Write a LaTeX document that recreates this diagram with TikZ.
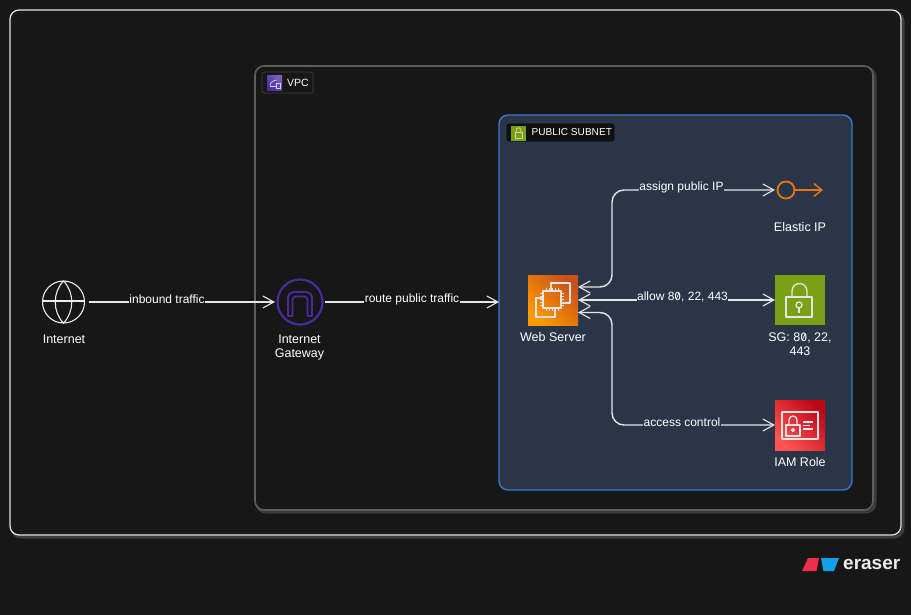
\documentclass[tikz,border=0pt]{standalone}
\usepackage{fontspec}
\setmainfont{Liberation Sans}
\newfontfamily\zfont[RawFeature=+zero]{Fira Sans}
\usetikzlibrary{arrows.meta,calc}
\definecolor{bgc}{HTML}{171717}
\definecolor{subn}{HTML}{2A3648}
\definecolor{edgec}{HTML}{E6E6E6}
\definecolor{shad}{HTML}{3C3C3C}
\definecolor{vpcl}{HTML}{5E5E5E}
\definecolor{blueb}{HTML}{3A77D0}
\definecolor{purp}{HTML}{4A2A9C}
\definecolor{orng}{HTML}{E8760C}
\definecolor{grn}{HTML}{7AA116}
\definecolor{awsorA}{HTML}{C8511B}
\definecolor{awsorB}{HTML}{FF9900}
\definecolor{awsrdA}{HTML}{BD0816}
\definecolor{awsrdB}{HTML}{FF5252}
\definecolor{brandr}{HTML}{EE2F4C}
\definecolor{brandb}{HTML}{12A0EA}
\newcommand{\zz}{{\zfont 0}}
\tikzset{
  txt/.style={text=white,font=\fontsize{12.5}{14}\selectfont,align=center,inner sep=0pt},
  lab/.style={txt,font=\fontsize{12}{14}\selectfont,fill=#1,inner xsep=0.6pt,inner ysep=2pt},
  icon/.style={minimum size=50pt,inner sep=0pt,outer sep=0pt},
  ink/.style={draw=white!90!black,line width=1.35pt,line join=round},
  pin/.style={draw=white!90!black,line width=.9pt},
  flow/.style={draw=edgec,line width=1.4pt,-{Straight Barb[length=11pt,width=12pt,line width=1.1pt]}},
  flowb/.style={draw=edgec,line width=1.4pt,{Straight Barb[length=11pt,width=12pt,line width=1.1pt]}-{Straight Barb[length=11pt,width=12pt,line width=1.1pt]},rounded corners=12pt},
  tag/.style={rounded corners=2.5pt,line width=0.8pt,inner sep=0pt,outer sep=0pt},
  tagicon/.style={minimum size=15pt,inner sep=0pt,outer sep=0pt}
}
\begin{document}
\begin{tikzpicture}[x=1pt,y=-1pt]
\useasboundingbox (0,0) rectangle (911,615);
\fill[bgc] (0,0) rectangle (911,615);
% outer frame
\draw[shad,line width=3pt,rounded corners=9pt] (12,12) rectangle (903,537);
\draw[white!90!black,fill=bgc,line width=1.2pt,rounded corners=9pt] (10,10) rectangle (901,535);
% VPC
\draw[shad,line width=3pt,rounded corners=9pt] (257,68) rectangle (875,512);
\draw[vpcl,fill=bgc,line width=1.6pt,rounded corners=9pt] (255,66) rectangle (873,510);
\node[tag,draw=shad,fill=bgc,minimum width=51pt,minimum height=21pt] (vpctag) at (287.5,82.5) {};
\node[tagicon,left color=purp!75!white,right color=purp,shading angle=-45] (vpcicon) at (274.5,83.5) {};
\draw[white!75!purp,line width=.7pt] (270,86) .. controls (270,82) and (274,80) .. (277,80);
\draw[white!75!purp,line width=.7pt] (270,86) -- (276,86);
\draw[white!75!purp,line width=.7pt] (276,83) rectangle (280,88);
\node[txt,anchor=west,font=\fontsize{10.5}{12}\selectfont] (vpctext) at (287,82.5) {VPC};
% Subnet
\node[draw=blueb,fill=subn,line width=1.4pt,rounded corners=9pt,minimum width=353pt,minimum height=375pt,inner sep=0pt,outer sep=0pt] (subnet) at (675.5,302.5) {};
\node[tag,draw=blueb!45!bgc,fill=bgc!70!black,minimum width=109pt,minimum height=19pt] (subtag) at (560.5,132.5) {};
\node[tagicon,fill=grn] (subicon) at (518.5,133.5) {};
\draw[white!60!grn,line width=.8pt] (515,132) rectangle (522,138.5);
\draw[white!60!grn,line width=.8pt] (516.3,132) -- (516.3,130) arc[start angle=180,end angle=0,radius=2.2pt] -- (520.7,132);
\node[txt,anchor=west,font=\fontsize{10.1}{12}\selectfont] (subtext) at (531.5,132) {PUBLIC SUBNET};
% Internet
\node[icon] (internet) at (63.5,302) {};
\begin{scope}[shift={(internet.center)}]
\draw[white!92!black,line width=1.1pt] (0,0) circle[radius=21pt];
\draw[white!92!black,line width=1.1pt] (0,-21) .. controls (-11,-10) and (-11,10) .. (0,21) .. controls (11,10) and (11,-10) .. (0,-21);
\draw[white!92!black,line width=1.1pt] (-21,-1) -- (21,-1);
\end{scope}
\node[txt] (internettext) at (64,339.5) {Internet};
% Gateway
\node[icon] (igw) at (300,302) {};
\begin{scope}[shift={(igw.center)}]
\draw[purp,line width=2.2pt] (0,0) circle[radius=22.5pt];
\draw[purp,line width=1.8pt,line join=round,rounded corners=5.5pt] (-12,14) -- (-12,-10) -- (12,-10) -- (12,14);
\draw[purp,line width=1.8pt,line join=round] (-12,14) -- (-7.5,14);
\draw[purp,line width=1.8pt,line join=round] (12,14) -- (7.5,14);
\draw[purp,line width=1.8pt,line join=round,rounded corners=3.5pt] (-7.5,14) -- (-7.5,-5.5) -- (7.5,-5.5) -- (7.5,14);
\end{scope}
\node[txt] (igwtext) at (299.5,347) {Internet\\Gateway};
% Web server
\node[icon,left color=awsorA,right color=awsorB,shading angle=-45] (web) at (553,300) {};
\begin{scope}[shift={(web.center)}]
\draw[ink] (-2,-9) -- (-2,-17) -- (17,-17) -- (17,3) -- (9,3);
\draw[ink] (-10,-2) -- (-17,-2) -- (-17,17) -- (2,17) -- (2,9);
\draw[ink] (-10,-9) rectangle (8,8);
\foreach \p in {-7,-4,-1,2,5}{
  \draw[pin] (\p,-9) -- (\p,-12);
  \draw[pin] (\p,8) -- (\p,11);
  \draw[pin] (-10,\p) -- (-13,\p);
  \draw[pin] (8,\p) -- (11,\p);
}
\end{scope}
\node[txt] (webtext) at (553,337) {Web Server};
% Elastic IP
\node[icon] (eip) at (800,190) {};
\begin{scope}[shift={(eip.center)}]
\draw[orng,line width=1.8pt] (-14,0) circle[radius=8.5pt];
\coordinate (eipa) at (-5.5,0);
\coordinate (eipb) at (23,0);
\end{scope}
\draw[orng,line width=1.6pt,-{Straight Barb[length=8pt,width=13pt,line width=1.4pt]}] (eipa) -- (eipb);
\node[txt] (eiptext) at (800,227) {Elastic IP};
% SG
\node[icon,fill=grn] (sg) at (800,300) {};
\begin{scope}[shift={(sg.center)}]
\draw[ink] (-14,-3) rectangle (12,17);
\draw[ink] (-8,-3) -- (-8,-9) arc[start angle=180,end angle=0,radius=7.5pt] -- (7,-3);
\draw[ink] (-1,5) circle[radius=3pt];
\draw[ink] (-1,8) -- (-1,13);
\end{scope}
\node[txt] (sgtext) at (800,344.5) {SG: 8\zz, 22,\\443};
% IAM
\node[icon,left color=awsrdA,right color=awsrdB,shading angle=-45] (iam) at (800,425) {};
\begin{scope}[shift={(iam.center)}]
\draw[ink] (-18,-13) rectangle (18,14);
\draw[ink] (-14,0) rectangle (0,11);
\draw[ink] (-11,0) -- (-11,-5) arc[start angle=180,end angle=0,radius=4pt] -- (-3,0);
\draw[ink] (-7,5) circle[radius=1.5pt];
\draw[ink] (3,-3) -- (13,-3);
\draw[ink] (3,0.5) -- (10,0.5);
\draw[ink] (3,4) -- (13,4);
\end{scope}
\node[txt] (iamtext) at (800,462) {IAM Role};
% Connectors
\coordinate (rail) at (612,300);
\coordinate (w1) at ($(web.east)+(0,-13)$);
\coordinate (w3) at ($(web.east)+(0,12.5)$);
\draw[flow] (internet.east) -- (igw.west);
\draw[flow] (igw.east) -- (igw.east -| subnet.west);
\draw[flowb] (w1) -| (rail |- eip.west) -- (eip.west);
\draw[flowb] (web.east) -- (sg.west);
\draw[flowb] (w3) -| (rail |- iam.west) -- (iam.west);
% Labels
\node[lab=bgc] (l1) at (167,299) {inbound traffic};
\node[lab=bgc] (l2) at (412,299) {route public traffic};
\node[lab=subn] (l3) at (681.5,187.5) {assign public IP};
\node[lab=subn] (l4) at (682.5,297) {allow 8\zz, 22, 443};
\node[lab=subn] (l5) at (682,422) {access control};
% Brand
\fill[brandr] (802,571) -- (808,558) -- (819,558) -- (816.5,571) -- cycle;
\fill[brandb] (821,558) -- (839,558) -- (834,571) -- (823.5,571) -- cycle;
\node[anchor=west,text=white!92!black,inner sep=0pt,font=\fontsize{19}{22}\selectfont\bfseries] (brand) at (843,564) {eraser};
\end{tikzpicture}
\end{document}
